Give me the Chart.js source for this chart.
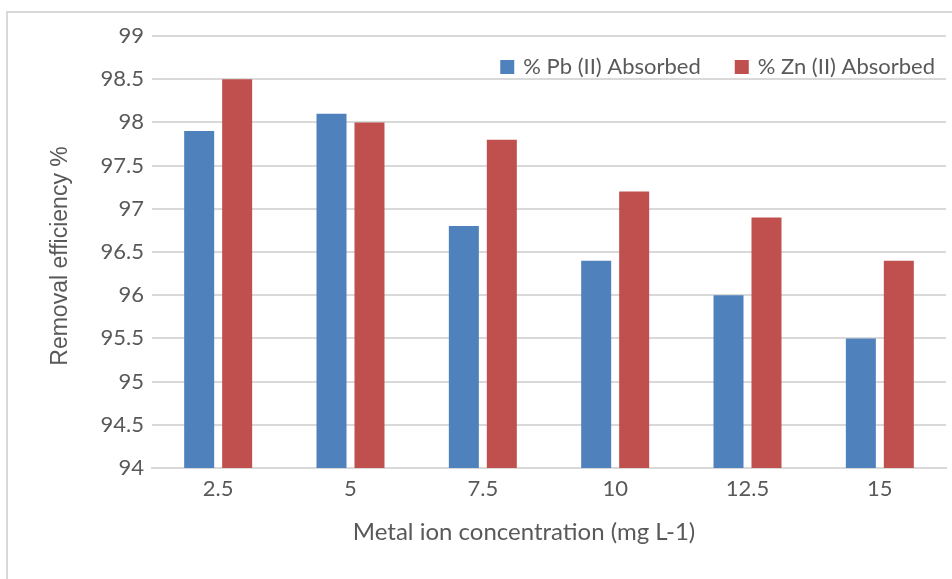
<!DOCTYPE html>
<html>
<head>
<meta charset="utf-8">
<script src="https://cdn.jsdelivr.net/npm/chart.js@4/dist/chart.umd.min.js"></script>
<style>
html,body{margin:0;padding:0;background:#fff;}
canvas{display:block;}
</style>
</head>
<body>
<canvas id="c" width="952" height="579"></canvas>
<script>
const categories = ['2.5', '5', '7.5', '10', '12.5', '15'];
const pbValues = [97.9, 98.1, 96.8, 96.4, 96.0, 95.5];
const znValues = [98.5, 98.0, 97.8, 97.2, 96.9, 96.4];
const seriesNames = ['% Pb (II) Absorbed', '% Zn (II) Absorbed'];
const yTickLabels = ['94', '94.5', '95', '95.5', '96', '96.5', '97', '97.5', '98', '98.5', '99'];
const xTitle = 'Metal ion concentration (mg L-1)';
const yTitle = 'Removal efficiency %';

const FONT = 'Lato, Carlito, "Open Sans", sans-serif';
const YFONT = '"Liberation Sans", Arial, sans-serif';
const TXT = '#595959';
const GRID = '#D9D9D9';

const frame = {
  id: 'frame',
  beforeDraw(chart) {
    const ctx = chart.ctx;
    ctx.save();
    ctx.fillStyle = '#fff';
    ctx.fillRect(0, 0, chart.width, chart.height);
    ctx.strokeStyle = GRID;
    ctx.lineWidth = 2;
    ctx.strokeRect(7, 12, chart.width + 20, chart.height + 20);
    ctx.restore();
  }
};

const titles = {
  id: 'titles',
  afterDraw(chart) {
    const ctx = chart.ctx;
    ctx.save();
    ctx.fillStyle = TXT;
    ctx.textAlign = 'center';
    ctx.textBaseline = 'middle';
    ctx.font = '24px ' + FONT;
    ctx.fillText(xTitle, 524, 532);
    ctx.translate(61, 256);
    ctx.rotate(-Math.PI / 2);
    ctx.font = '23px ' + YFONT;
    ctx.fillText(yTitle, 0, 0);
    ctx.restore();
  }
};

const legendBox = {
  id: 'legendBox',
  afterDraw(chart) {
    const ctx = chart.ctx;
    ctx.save();
    ctx.font = '22px ' + FONT;
    ctx.textBaseline = 'middle';
    const box = 14, gap = 9, itemGap = 34;
    const ds = chart.data.datasets;
    const widths = ds.map(d => box + gap + ctx.measureText(d.label).width);
    const total = widths.reduce((a, b) => a + b, 0) + itemGap * (ds.length - 1);
    let x = chart.chartArea.right - 11 - total;
    const yMid = chart.chartArea.top + 31;
    ds.forEach((d, i) => {
      ctx.fillStyle = d.backgroundColor;
      ctx.fillRect(x, yMid - box / 2, box, box);
      ctx.fillStyle = TXT;
      ctx.textAlign = 'left';
      ctx.fillText(d.label, x + box + gap, yMid);
      x += widths[i] + itemGap;
    });
    ctx.restore();
  }
};

new Chart(document.getElementById('c'), {
  type: 'bar',
  data: {
    labels: categories,
    datasets: [
      { label: seriesNames[0], data: pbValues, backgroundColor: '#4F81BD', categoryPercentage: 0.574, barPercentage: 0.79 },
      { label: seriesNames[1], data: znValues, backgroundColor: '#C0504D', categoryPercentage: 0.574, barPercentage: 0.79 }
    ]
  },
  options: {
    responsive: false,
    animation: false,
    devicePixelRatio: 1,
    layout: { padding: { left: 0, right: 6, top: 36, bottom: 0 } },
    plugins: { legend: { display: false }, tooltip: { enabled: false } },
    scales: {
      x: {
        grid: { display: false, drawTicks: false },
        border: { display: true, color: GRID, width: 2 },
        ticks: { color: TXT, font: { family: FONT, size: 22 }, padding: 8 },
        afterFit(s) { s.height = 111; }
      },
      y: {
        min: 94, max: 99,
        grid: { color: GRID, lineWidth: 2, drawTicks: false },
        border: { display: false },
        ticks: {
          stepSize: 0.5, color: TXT, font: { family: FONT, size: 22 }, padding: 8,
          callback: (v, i) => yTickLabels[i]
        },
        afterFit(s) { s.width = 152; }
      }
    }
  },
  plugins: [frame, titles, legendBox]
});
</script>
</body>
</html>
